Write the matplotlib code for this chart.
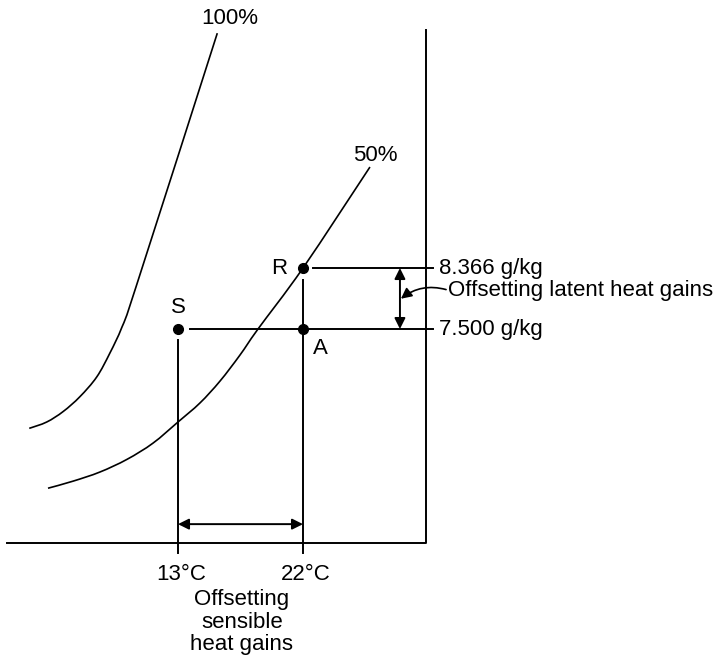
import matplotlib
matplotlib.use("Agg")
import matplotlib.pyplot as plt
from matplotlib.path import Path
from matplotlib.patches import PathPatch

plt.rcParams["font.family"] = ["Liberation Sans", "DejaVu Sans"]

# state points (dry-bulb °C, moisture content g/kg)
supply_t, supply_w = 13.0, 7.500
room_t, room_w = 22.0, 8.366
tick_temps = [13, 22]
tick_labels = ["13°C", "22°C"]
w_labels = ["8.366 g/kg", "7.500 g/kg"]

# saturation (100%) and 50% curves
sat_t = [2.29, 3.55, 4.74, 5.94, 7.15, 8.10, 8.97, 9.98, 15.83]
sat_w = [6.09, 6.18, 6.33, 6.54, 6.82, 7.16, 7.53, 8.10, 11.70]
half_t = [3.64, 5.44, 7.38, 9.33, 11.20, 13.0, 14.58, 16.02, 17.46,
          18.76, 22.0, 26.82]
half_w = [5.24, 5.34, 5.47, 5.65, 5.88, 6.18, 6.45, 6.76, 7.13,
          7.50, 8.366, 9.80]

# chart frame
t_left, t_right = 0.69, 30.86
w_bottom, w_top = 4.46, 11.74


def smooth_curve(xs, ys):
    # Catmull-Rom through the read points, drawn as cubic Bezier segments
    pts = list(zip(xs, ys))
    verts = [pts[0]]
    codes = [Path.MOVETO]
    for i in range(len(pts) - 1):
        p0 = pts[i - 1] if i > 0 else pts[i]
        p1, p2 = pts[i], pts[i + 1]
        p3 = pts[i + 2] if i + 2 < len(pts) else pts[i + 1]
        c1 = (p1[0] + (p2[0] - p0[0]) / 6, p1[1] + (p2[1] - p0[1]) / 6)
        c2 = (p2[0] - (p3[0] - p1[0]) / 6, p2[1] - (p3[1] - p1[1]) / 6)
        verts += [c1, c2, p2]
        codes += [Path.CURVE4] * 3
    return Path(verts, codes)


fig = plt.figure(figsize=(7.18, 6.61), dpi=100)
ax = fig.add_axes([0, 0, 1, 1])
ax.set_xlim(0.184, 51.88)
ax.set_ylim(2.787, 12.171)
ax.axis("off")

lw = 1.4
fs = 16
k = "black"

# frame: bottom axis + right edge
ax.plot([t_left, t_right, t_right], [w_bottom, w_bottom, w_top], color=k, lw=lw)

# curves
for xs, ys in [(sat_t, sat_w), (half_t, half_w)]:
    ax.add_patch(PathPatch(smooth_curve(xs, ys), fill=False, edgecolor=k,
                           lw=1.2))
ax.text(16.74, 11.915, "100%", ha="center", va="center", fontsize=fs)
ax.text(27.18, 9.97, "50%", ha="center", va="center", fontsize=fs)

# constant moisture lines
ax.plot([22.72, 31.36], [room_w, room_w], color=k, lw=lw)
ax.plot([13.86, 31.36], [supply_w, supply_w], color=k, lw=lw)

# temperature verticals
ax.plot([supply_t, supply_t], [7.34, 4.32], color=k, lw=lw)
ax.plot([room_t, room_t], [8.196, 4.32], color=k, lw=lw)

# points
ax.plot([supply_t, room_t, room_t], [supply_w, room_w, supply_w], "o",
        color=k, ms=7)
ax.text(20.9, room_w, "R", ha="right", va="center", fontsize=fs)
ax.text(supply_t, 7.80, "S", ha="center", va="center", fontsize=fs)
ax.text(23.22, 7.23, "A", ha="center", va="center", fontsize=fs)

# moisture labels
for w, lab in zip([room_w, supply_w], w_labels):
    ax.text(31.79, w, lab, ha="left", va="center", fontsize=fs)

# latent double arrow + leader
arr = dict(arrowstyle="<|-|>", color=k, lw=lw, mutation_scale=16,
           shrinkA=0, shrinkB=0)
ax.annotate("", xy=(28.98, room_w), xytext=(28.98, supply_w), arrowprops=arr)
ax.annotate("", xy=(29.05, 7.93), xytext=(32.3, 8.06),
            arrowprops=dict(arrowstyle="-|>", color=k, lw=1.2,
                            mutation_scale=16, shrinkA=0, shrinkB=0,
                            connectionstyle="arc3,rad=0.25"))
ax.text(32.44, 8.05, "Offsetting latent heat gains", ha="left", va="center",
        fontsize=fs)

# sensible double arrow
ax.annotate("", xy=(supply_t, 4.73), xytext=(room_t, 4.73), arrowprops=arr)

for t, lab in zip(tick_temps, tick_labels):
    ax.text(t + 0.2, 4.02, lab, ha="center", va="center", fontsize=fs)
ax.text(17.6, 3.34, "Offsetting\nsensible\nheat gains", ha="center",
        va="center", fontsize=fs, linespacing=1.1)

fig.savefig("out.png", dpi=100)
